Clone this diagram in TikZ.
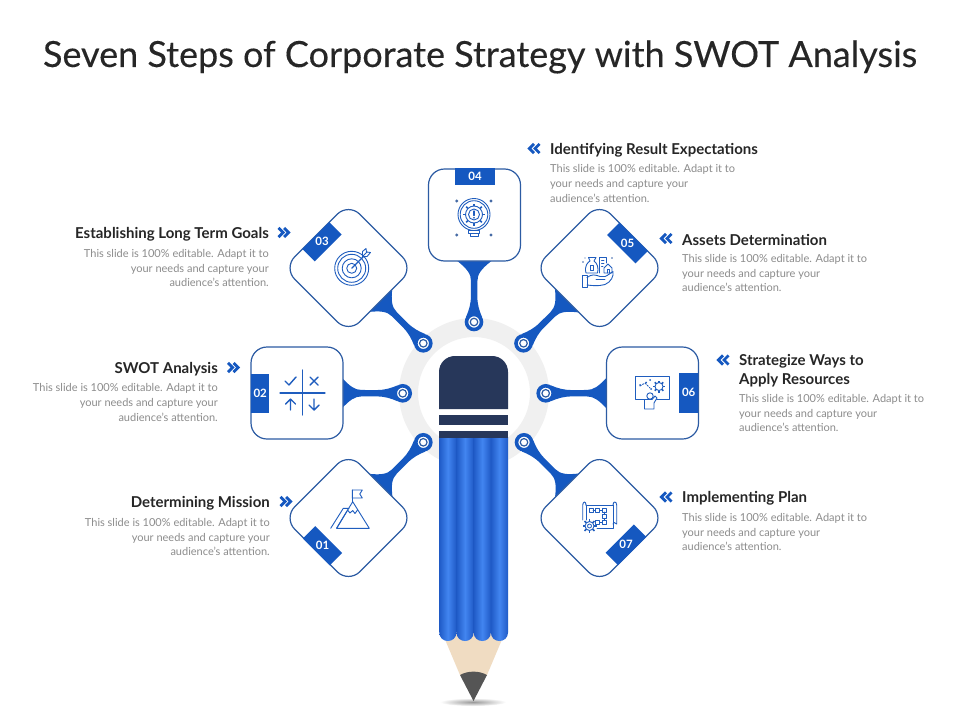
\documentclass[tikz,border=0pt]{standalone}
\usepackage{fontspec}
\setmainfont{Lato}
\usetikzlibrary{calc,backgrounds}
\definecolor{mainblue}{HTML}{1558C0}
\definecolor{edgeblue}{HTML}{2C5BA3}
\definecolor{iconblue}{HTML}{1F5DBE}
\definecolor{lightblue}{HTML}{4285F0}
\definecolor{seamblue}{HTML}{1F5AC6}
\definecolor{navy}{HTML}{27375A}
\definecolor{greyring}{HTML}{F0F0F0}
\definecolor{wood}{HTML}{F0DCC2}
\definecolor{leadgrey}{HTML}{555555}
\definecolor{headtext}{HTML}{262626}
\definecolor{bodytext}{HTML}{8C8C8C}
\tikzset{
  x=1pt,y=-1pt,
  cardbox/.style={draw=edgeblue,line width=1.2pt,fill=white,rounded corners=16pt,minimum size=92pt,inner sep=0pt,outer sep=0pt},
  tagbox/.style={fill=mainblue,minimum width=40pt,minimum height=17.5pt,inner sep=0pt,outer sep=0pt},
  tagtext/.style={text=white,font=\bfseries\fontsize{11.5}{12}\selectfont,inner sep=0pt},
  ringout/.style={circle,draw=mainblue,line width=3.6pt,fill=white,minimum size=15pt,inner sep=0pt,outer sep=0pt},
  ringin/.style={circle,draw=edgeblue,line width=1.2pt,fill=white,minimum size=7.5pt,inner sep=0pt},
  headl/.style={anchor=west,text=headtext,font=\bfseries\fontsize{15}{19}\selectfont,align=left,inner sep=0pt},
  headr/.style={anchor=east,text=headtext,font=\bfseries\fontsize{15}{19}\selectfont,align=right,inner sep=0pt},
  bodyl/.style={anchor=west,text=bodytext,font=\fontsize{11}{14.6}\selectfont,align=left,inner sep=0pt},
  bodyr/.style={anchor=east,text=bodytext,font=\fontsize{11}{14.6}\selectfont,align=right,inner sep=0pt},
  icon/.style={draw=iconblue,line width=0.9pt,line join=round,line cap=round},
  chev/.style={draw=mainblue,line width=2.8pt,miter limit=10},
  col/.style={left color=seamblue,right color=seamblue,middle color=lightblue}
}
\newcommand{\stemfrom}[3]{% ring, box, base half-width
  \pgfmathanglebetweenpoints{\pgfpointanchor{#1}{center}}{\pgfpointanchor{#2}{center}}
  \let\stemangle\pgfmathresult
  \begin{scope}[shift={(#1)},rotate=\stemangle,yscale=-1]
    \fill[mainblue] (61,#3) .. controls (53,7) and (48,3.2) .. (41,3.2)
      -- (26,3.2) .. controls (18,3.2) and (12,5) .. (5,8) -- (5,-8)
      .. controls (12,-5) and (18,-3.2) .. (26,-3.2)
      -- (41,-3.2) .. controls (48,-3.2) and (53,-7) .. (61,-#3) -- cycle;
  \end{scope}}
\newcommand{\chevr}[2]{%
  \draw[chev] (#1,#2-4.6) -- ++(4.6,4.6) -- ++(-4.6,4.6);
  \draw[chev] (#1+5.6,#2-4.6) -- ++(4.6,4.6) -- ++(-4.6,4.6);}
\newcommand{\chevl}[2]{%
  \draw[chev] (#1+5,#2-4.6) -- ++(-4.6,4.6) -- ++(4.6,4.6);
  \draw[chev] (#1+10.6,#2-4.6) -- ++(-4.6,4.6) -- ++(4.6,4.6);}
\newcommand{\bodylines}{This slide is 100\% editable. Adapt it to\\your needs and capture your\\audience's attention.}
\newcommand{\gearat}[4]{% x y inner outer
  \begin{scope}[shift={(#1,#2)}]
    \draw[icon] (0,0) circle (#3);
    \foreach \a in {0,45,...,315}{\draw[icon,line width=1.5pt,line cap=butt] (\a:#3) -- (\a:#4);}
  \end{scope}}
\begin{document}
\begin{tikzpicture}
\useasboundingbox (0,0) rectangle (960,720);

\node[text=headtext,font=\fontsize{36}{40}\selectfont\addfontfeature{FakeBold=0.25},inner sep=0pt] (title) at (480,57) {Seven Steps of Corporate Strategy with SWOT Analysis};

% cards
\node[cardbox] (b4) at (474.5,215) {};
\node[cardbox,rotate=45] (b3) at (348.5,268) {};
\node[cardbox,rotate=45] (b5) at (599.5,268) {};
\node[cardbox] (b2) at (297,393) {};
\node[cardbox] (b6) at (652.5,393) {};
\node[cardbox,rotate=45] (b1) at (348.5,518) {};
\node[cardbox,rotate=45] (b7) at (599.5,518) {};

% tags
\node[tagbox] (t4) at (475,176.5) {}; \node[tagtext] (n4) at (t4) {04};
\node[tagbox,rotate=45,minimum height=17.5pt,minimum width=38pt] (t3) at (322,241.7) {}; \node[tagtext] (n3) at (t3) {03};
\node[tagbox,rotate=-45] (t5) at (627.5,243) {}; \node[tagtext] (n5) at (t5) {05};
\node[tagbox,minimum width=18.5pt,minimum height=39.5pt] (t2) at (260.2,393.5) {}; \node[tagtext] (n2) at (t2) {02};
\node[tagbox,minimum width=18.5pt,minimum height=39.5pt] (t6) at (688.7,392.8) {}; \node[tagtext] (n6) at (t6) {06};
\node[tagbox,rotate=-45,minimum width=38pt] (t1) at (322.5,545.7) {}; \node[tagtext] (n1) at (t1) {01};
\node[tagbox,rotate=45] (t7) at (626,544.8) {}; \node[tagtext] (n7) at (t7) {07};

% rings
\foreach \nm/\px/\py in {r4/474/322,r3/423.3/343.3,r5/523.5/343.3,r2/402.7/393.3,r6/545.7/393.3,r1/423.3/442.3,r7/524/442.3}{
  \node[ringout] (\nm) at (\px,\py) {};
  \node[ringin] (\nm c) at (\nm) {};
}

\begin{scope}[on background layer]
  % page
  \fill[white] (0,0) rectangle (960,720);
  % ground shadow
  \shade[inner color=black!40,outer color=white] (473,702) ellipse (33 and 4);
  % halo ring
  \fill[greyring,even odd rule] (474,393) circle (75) (474,393) circle (56);
  % wood and lead
  \fill[wood] (441,630) -- (506,630) -- (487,675) -- (460,675) -- cycle;
  \fill[leadgrey] (460,675) .. controls (468,670.5) and (479,670.5) .. (487,675) -- (473.5,701) -- cycle;
  % pencil columns
  \foreach \cx in {439.2,456.4,473.6,490.8}{
    \shade[col] (\cx,437) -- (\cx+17.3,437) -- (\cx+17.3,632)
      .. controls (\cx+17.3,638) and (\cx+13,641) .. (\cx+8.65,641)
      .. controls (\cx+4.3,641) and (\cx,638) .. (\cx,632) -- cycle;
  }
  % eraser and bands
  \fill[navy] (439,409) -- (439,372) .. controls (439,363) and (446,356) .. (455,356) -- (492,356) .. controls (501,356) and (508,363) .. (508,372) -- (508,409) -- cycle;
  \fill[navy] (439,415) rectangle (508,425);
  \fill[navy] (439,431) rectangle (508,438);
  % stems
  \stemfrom{r4}{b4}{17}
  \stemfrom{r3}{b3}{17}
  \stemfrom{r5}{b5}{17}
  \stemfrom{r2}{b2}{15.5}
  \stemfrom{r6}{b6}{15.5}
  \stemfrom{r1}{b1}{17}
  \stemfrom{r7}{b7}{17}
\end{scope}

% text blocks
\node[headl] (h4) at (550,150) {Identifying Result Expectations};
\node[bodyl] (d4) at (550,183.5) {\bodylines};
\chevl{529}{148.5}
\node[headl] (h5) at (682,240) {Assets Determination};
\node[bodyl] (d5) at (682,273) {\bodylines};
\chevl{661}{238.5}
\node[headl] (h6) at (739,370.5) {Strategize Ways to\\Apply Resources};
\node[bodyl] (d6) at (739,413) {\bodylines};
\chevl{718}{360}
\node[headl] (h7) at (682,498) {Implementing Plan};
\node[bodyl] (d7) at (682,532) {\bodylines};
\chevl{661}{497}
\node[headr] (h3) at (269,234) {Establishing Long Term Goals};
\node[bodyr] (d3) at (269,268) {\bodylines};
\chevr{278.5}{232.5}
\node[headr] (h2) at (218,369) {SWOT Analysis};
\node[bodyr] (d2) at (218,402.5) {\bodylines};
\chevr{228}{367.5}
\node[headr] (h1) at (270,503) {Determining Mission};
\node[bodyr] (d1) at (270,537) {\bodylines};
\chevr{280.5}{501.5}

% icon 04: bulb with gear
\draw[icon] (474,214.5) circle (16);
\draw[icon] (474,214.5) circle (13.8);
\gearat{474}{214.5}{8.5}{11}
\draw[icon] (474,214.5) circle (5.5);
\draw[icon,line width=1.1pt] (474,211) -- (474,215.5) (474,217.6) -- (474,218);
\draw[icon] (468.5,230.5) rectangle (479.5,233.5) (470,233.5) rectangle (478,236.5);
\foreach \dx/\dy in {456.7/201,456.7/235,491/201,491/235}{\fill[iconblue!60!gray] (\dx,\dy) circle (1.6);}

% icon 03: target
\foreach \rr in {17,14,9.5,5}{\draw[icon] (351.7,268.3) circle (\rr);}
\draw[icon,line width=1.1pt] (351.7,268.3) -- (365,255);
\draw[icon,fill=white] (362.5,255.5) -- (362.5,251.5) -- (366,248.5) -- (366.5,252) -- (370.5,252.5) -- (367,256.5) -- (363.5,256.5) -- cycle;
\draw[icon] (362.5,256.5) -- (367,252);

% icon 02: decision cross
\draw[icon,line width=1.2pt] (302.3,370) -- (302.3,415) (280,393) -- (325,393);
\draw[icon,line width=1.4pt] (285,381) -- (289,385) -- (296,377);
\draw[icon,line width=1.4pt] (310,377) -- (318,385) (318,377) -- (310,385);
\draw[icon,line width=1.4pt] (290.5,410) -- (290.5,399) (285.5,404) -- (290.5,399) -- (295.5,404);
\draw[icon,line width=1.4pt] (314,399) -- (314,410) (309,405) -- (314,410) -- (319,405);

% icon 06: presenter at board
\draw[icon] (635.7,376.7) rectangle (669,399.3);
\gearat{659}{386.5}{4}{6}
\draw[icon,dash pattern=on 1.5pt off 1.5pt] (640,386) -- (645,383) -- (650,388);
\fill[iconblue] (640,385) circle (1) (646,382.5) circle (1) (650,380) circle (1) (651,389) circle (1);
\draw[icon,fill=white] (650,396) circle (3.2);
\draw[icon,fill=white] (644.5,409) -- (644.5,399.5) -- (652,399.5) -- (655,396) -- (657,398) -- (654,403) -- (654,409) -- cycle;

% icon 05: hand with assets
\draw[icon] (582.7,275) rectangle (587,287.5);
\draw[icon] (587,277.5) .. controls (592,273.5) and (596,275) .. (600,276.5) -- (605,276.5)
  .. controls (608,275.5) and (611,272.5) .. (613,271.5)
  .. controls (614,276) and (611,282) .. (605,284.5) .. controls (598,286.5) and (592,285.5) .. (587,285);
\draw[icon] (596,279.5) -- (605,279.5);
\draw[icon] (586,273) .. controls (584,266) and (588,262) .. (590,261) -- (588.5,257.5) -- (596,257.5) -- (594,261) .. controls (597,263) and (599,268) .. (597.5,273) -- cycle;
\draw[icon] (590,265) rectangle (593,270);
\draw[icon] (599,273) -- (599,257.5) -- (606,257.5) -- (606,263);
\draw[icon] (601.5,260) -- (604,260) (601.5,263) -- (604,263) (601.5,266) -- (603,266);
\draw[icon] (604,273) -- (604,268) -- (608,264) -- (612,268) -- (612,273) -- cycle;
\draw[icon] (607,273) -- (607,269.5) -- (609.5,269.5) -- (609.5,273);
\fill[iconblue!70!gray] (583,262) circle (.9) (612,258) circle (.9) (585,258) circle (.7);

% icon 01: mountain with flag
\draw[icon] (336.7,528.3) -- (369.3,528.3) -- (352.7,501.7) -- cycle;
\draw[icon] (330.7,528.3) -- (343.3,508.3) -- (349,508.3);
\draw[icon] (336.5,528.3) -- (347,511);
\draw[icon] (347.5,510) -- (350,513) -- (352.7,510.5) -- (355,513.5) -- (357.5,510);
\draw[icon] (352.5,501.7) -- (352.3,490);
\draw[icon] (352.3,490) -- (362.3,490) -- (359.8,494) -- (362.3,498) -- (352.3,498);

% icon 07: plan scroll with gear
\draw[icon] (586,505) -- (586,520) (613,505) -- (613,524);
\draw[icon] (586,505) .. controls (586,501) and (583,501) .. (582.7,505) -- (582.7,520);
\draw[icon] (613,505) .. controls (613,501) and (616.5,501) .. (616.7,505) -- (616.7,524) .. controls (615,522) and (613,522) .. (613,524);
\draw[icon] (586,505) -- (613,505) (597,528) -- (613,528) -- (613,524);
\foreach \bx/\by in {591/510,597.5/510,604/510,604/516.5,597.5/522.5,604/522.5}{\draw[icon,line width=.8pt] (\bx-2,\by-2) rectangle (\bx+2,\by+2);}
\draw[icon,line width=.7pt] (593,510) -- (595.5,510) (599.5,510) -- (602,510) (604,512) -- (604,514.5) (604,518.5) -- (604,520.5) (599.5,522.5) -- (602,522.5);
\gearat{589.5}{526}{4.5}{7}
\draw[icon,line width=.8pt] (589.5,526) circle (2);
\end{tikzpicture}
\end{document}
